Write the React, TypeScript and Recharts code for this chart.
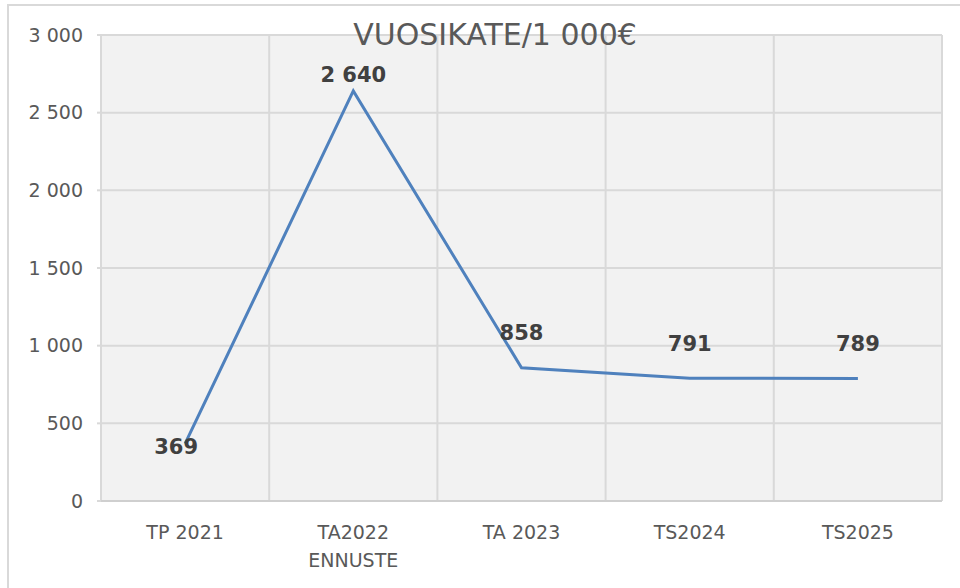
import React from "react";
import {
  ComposedChart,
  Line,
  XAxis,
  YAxis,
  CartesianGrid,
  LabelList,
} from "recharts";

const categories = ["TP 2021", "TA2022\nENNUSTE", "TA 2023", "TS2024", "TS2025"];
const vuosikate = [369, 2640, 858, 791, 789];
const yTicks = [0, 500, 1000, 1500, 2000, 2500, 3000];
const title = "VUOSIKATE/1 000€";

// hand-placed label offsets, like in the original sheet
const labelShift = [
  { dx: -9, dy: 3 },
  { dx: 0, dy: -16 },
  { dx: 0, dy: -35 },
  { dx: 0, dy: -35 },
  { dx: 0, dy: -35 },
];

const data = categories.map((name, i) => ({ name, value: vuosikate[i] }));

const W = 960;
const H = 588;
const Y_W = 101;
const M_RIGHT = 18;
// half a category on each side, so points sit in the middle of their slot
const halfSlot = (W - Y_W - M_RIGHT) / categories.length / 2;

const FONT = "'DejaVu Sans', sans-serif";
const GRID = "#d9d9d9";
const TEXT = "#595959";

const fmt = (v: number) => String(v).replace(/\B(?=(\d{3})+(?!\d))/g, " ");

function XTick({ x, y, payload }: any) {
  const lines = String(payload.value).split("\n");
  return (
    <text x={x} y={y} textAnchor="middle" fill={TEXT} fontSize={19} fontFamily={FONT}>
      {lines.map((l, i) => (
        <tspan key={i} x={x} y={y + 38 + i * 28}>
          {l}
        </tspan>
      ))}
    </text>
  );
}

function ValueLabel({ x, y, value, index }: any) {
  const s = labelShift[index] || { dx: 0, dy: -35 };
  return (
    <text
      x={x + s.dx}
      y={y + s.dy}
      dy="0.36em"
      textAnchor="middle"
      fill="#404040"
      fontSize={21}
      fontWeight="bold"
      fontFamily={FONT}
    >
      {fmt(value)}
    </text>
  );
}

export default function App() {
  return (
    <div
      style={{
        position: "absolute",
        left: 0,
        top: 0,
        width: W,
        height: H,
        overflow: "hidden",
        background: "#fff",
      }}
    >
      <div
        style={{
          position: "absolute",
          left: 7,
          top: 4,
          width: 1000,
          height: 640,
          border: `2px solid ${GRID}`,
        }}
      />
      <div style={{ position: "absolute", left: 0, top: 0 }}>
        <ComposedChart
          width={W}
          height={H}
          data={data}
          margin={{ top: 35, right: M_RIGHT, bottom: 0, left: 0 }}
        >
          <CartesianGrid
            fill="#f2f2f2"
            stroke={GRID}
            strokeWidth={2}
            verticalCoordinatesGenerator={({ offset }: any) =>
              categories
                .concat([""])
                .map((_, i) => offset.left + (i * offset.width) / categories.length)
            }
          />
          <XAxis
            dataKey="name"
            height={87}
            padding={{ left: halfSlot, right: halfSlot }}
            tickLine={false}
            tickSize={0}
            tickMargin={0}
            axisLine={{ stroke: "#cfcfcf", strokeWidth: 2 }}
            tick={<XTick />}
            interval={0}
          />
          <YAxis
            width={Y_W}
            domain={[0, 3000]}
            ticks={yTicks}
            axisLine={false}
            tickLine={{ stroke: GRID, strokeWidth: 2 }}
            tickSize={4}
            tickMargin={14}
            tickFormatter={fmt}
            tick={{ fill: TEXT, fontSize: 19, fontFamily: FONT }}
          />
          <Line
            type="linear"
            dataKey="value"
            stroke="#4f81bd"
            strokeWidth={3}
            dot={false}
            activeDot={false}
            isAnimationActive={false}
          >
            <LabelList dataKey="value" content={<ValueLabel />} />
          </Line>
        </ComposedChart>
      </div>
      <div
        style={{
          position: "absolute",
          left: 0,
          width: 990,
          top: 20,
          textAlign: "center",
          fontFamily: FONT,
          fontSize: 30,
          lineHeight: "30px",
          color: TEXT,
          whiteSpace: "nowrap",
        }}
      >
        {title}
      </div>
    </div>
  );
}
